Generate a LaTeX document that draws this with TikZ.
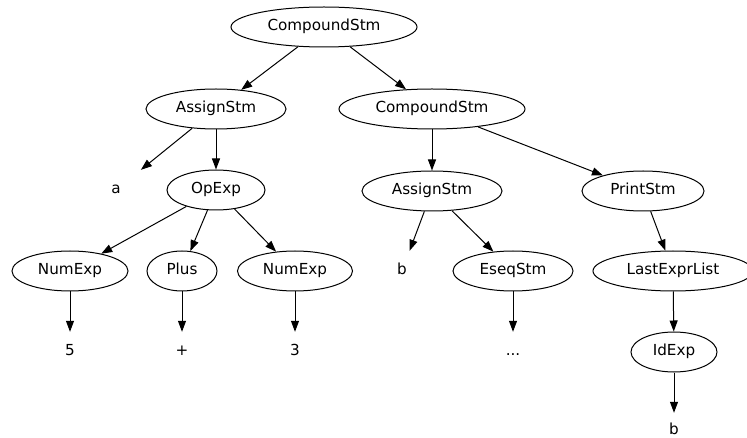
\documentclass[tikz,border=0pt]{standalone}
\usepackage{fontspec}
\setmainfont{DejaVu Sans}
\usetikzlibrary{shapes.geometric,arrows.meta}
\tikzset{
  el/.style={ellipse, draw, line width=1pt, minimum height=40pt, inner sep=0pt,
    font=\fontsize{15.2}{18}\selectfont, text height=11pt, text depth=3.5pt},
  pt/.style={rectangle, minimum width=61pt, minimum height=40pt, inner sep=0pt,
    font=\fontsize{15.2}{18}\selectfont, text height=11pt, text depth=3.5pt},
  edge/.style={line width=1pt, -{Triangle[length=11pt,width=8pt]}}
}
\begin{document}
\begin{tikzpicture}[x=1pt,y=-1pt]
\useasboundingbox (0,0) rectangle (747,438);
\node[el, minimum width=186pt] (top) at (324,27) {CompoundStm};
\node[el, minimum width=140pt] (as1) at (216,109) {AssignStm};
\node[el, minimum width=186pt] (cs2) at (432,109) {CompoundStm};
\node[pt] (a) at (116,190) {a};
\node[el, minimum width=98pt] (op) at (216,190) {OpExp};
\node[el, minimum width=140pt] (as2) at (432,191) {AssignStm};
\node[el, minimum width=122pt] (pr) at (643,191) {PrintStm};
\node[el, minimum width=116pt] (ne1) at (70,271) {NumExp};
\node[el, minimum width=70pt] (pl) at (182,271) {Plus};
\node[el, minimum width=115pt] (ne2) at (295,271) {NumExp};
\node[pt] (b1) at (402,271) {b};
\node[el, minimum width=120pt] (es) at (513,271) {EseqStm};
\node[el, minimum width=160pt] (le) at (673,271) {LastExprList};
\node[pt] (n5) at (70,352) {5};
\node[pt] (np) at (182,352) {+};
\node[pt] (n3) at (295,352) {3};
\node[pt] (dots) at (513,352) {...};
\node[el, minimum width=86pt] (id) at (674,352) {IdExp};
\node[pt, minimum height=0pt, minimum width=0pt, text height=11pt, text depth=0pt] (b2) at (674,429) {b};
\draw[edge] (top) -- (as1);
\draw[edge] (top) -- (cs2);
\draw[edge] (as1) -- (a);
\draw[edge] (as1) -- (op);
\draw[edge] (cs2) -- (as2);
\draw[edge] (cs2) -- (pr);
\draw[edge] (op) -- (ne1);
\draw[edge] (op) -- (pl);
\draw[edge] (op) -- (ne2);
\draw[edge] (as2) -- (b1);
\draw[edge] (as2) -- (es);
\draw[edge] (pr) -- (le);
\draw[edge] (ne1) -- (n5);
\draw[edge] (pl) -- (np);
\draw[edge] (ne2) -- (n3);
\draw[edge] (es) -- (dots);
\draw[edge] (le) -- (id);
\draw[edge, shorten >=10.5pt] (id) -- (b2);
\end{tikzpicture}
\end{document}
